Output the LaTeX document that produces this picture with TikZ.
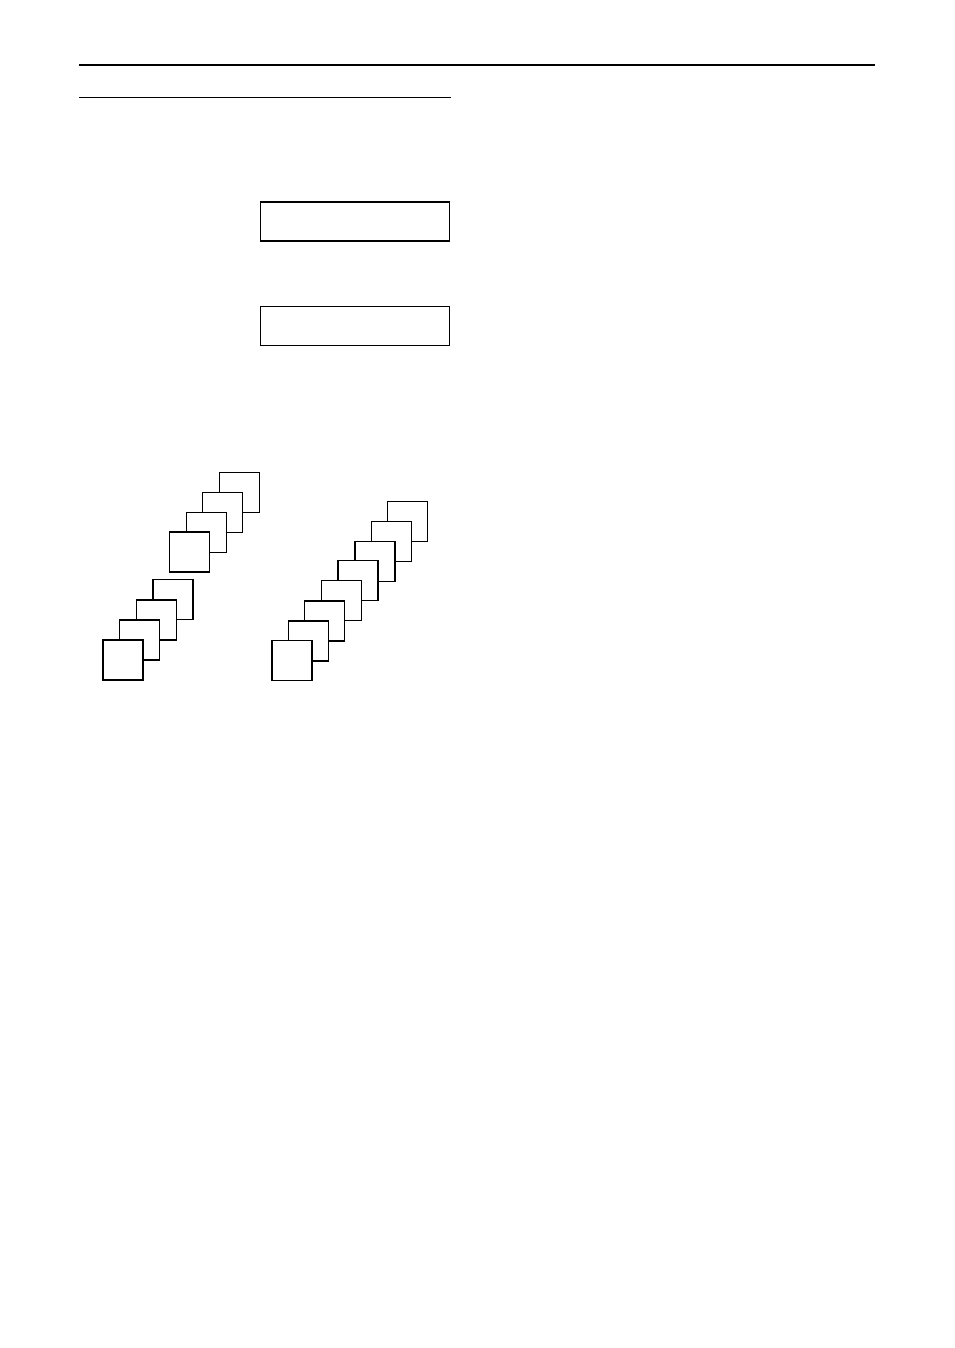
\documentclass[tikz,border=0pt]{standalone}
\begin{document}
\begin{tikzpicture}[x=1pt,y=-1pt,
  sheet/.style={draw=black,fill=white,line width=1.2pt,minimum width=40pt,minimum height=40pt,inner sep=0pt,outer sep=0pt},
  panel/.style={draw=black,fill=white,line width=1.1pt,minimum width=189pt,minimum height=39pt,inner sep=0pt},
  rulethick/.style={line width=2pt},
  rulethin/.style={line width=1pt}]
\useasboundingbox (0,0) rectangle (954,1348);
% rules
\coordinate (r1a) at (79,65.5);
\coordinate (r1b) at (875,65.5);
\coordinate (r2a) at (79,97.3);
\coordinate (r2b) at (451,97.3);
\draw[rulethick] (r1a) -- (r1b);
\draw[rulethin] (r2a) -- (r2b);
% panels
\node[panel] (box1) at (354.8,221.5) {};
\node[panel] (box2) at (354.8,326) {};
% left upper stack (back to front)
\node[sheet] (a1) at (239.3,492.5) {};
\node[sheet] (a2) at (222.8,512.3) {};
\node[sheet] (a3) at (206.2,532.3) {};
\node[sheet] (a4) at (189.7,552) {};
% left lower stack
\node[sheet] (b1) at (173,599.7) {};
\node[sheet] (b2) at (156.7,620) {};
\node[sheet] (b3) at (139.7,640) {};
\node[sheet] (b4) at (123,660) {};
% right stack
\node[sheet] (c1) at (407.5,521.7) {};
\node[sheet] (c2) at (391.3,541.3) {};
\node[sheet] (c3) at (375,561.3) {};
\node[sheet] (c4) at (358,580.8) {};
\node[sheet] (c5) at (341.7,600.7) {};
\node[sheet] (c6) at (324.7,621) {};
\node[sheet] (c7) at (308.8,641) {};
\node[sheet] (c8) at (292,660.7) {};
\end{tikzpicture}
\end{document}
